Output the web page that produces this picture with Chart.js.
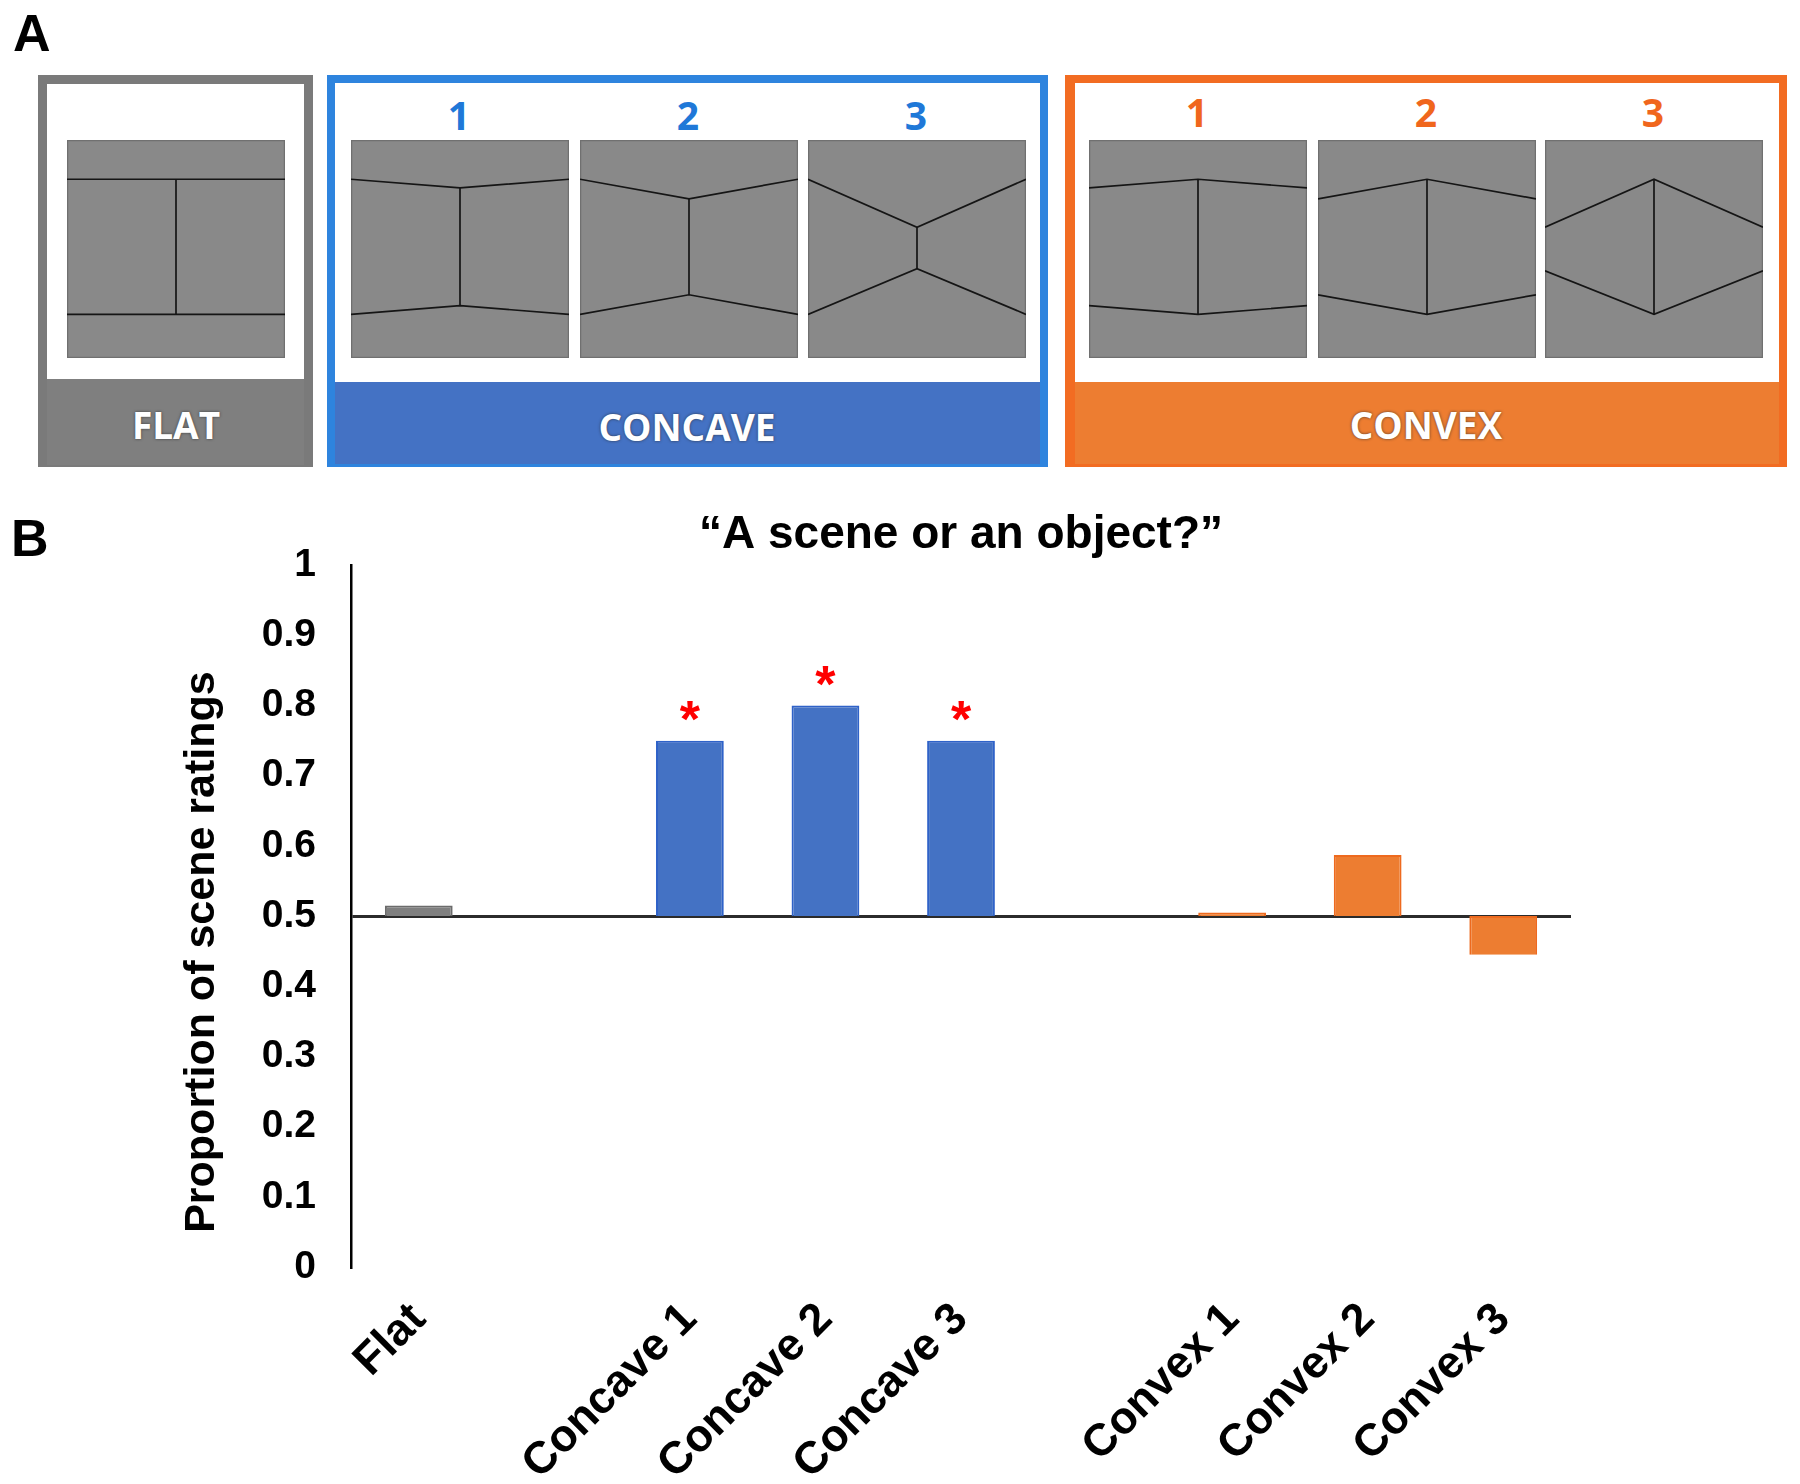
<!DOCTYPE html>
<html>
<head>
<meta charset="utf-8">
<script src="https://cdn.jsdelivr.net/npm/chart.js@4.4.1/dist/chart.umd.min.js"></script>
<style>
  html, body { margin: 0; padding: 0; background: #fff; }
  body { width: 1800px; height: 1484px; position: relative; overflow: hidden; font-family: "Liberation Sans", Arial, sans-serif; }
  .panel-letter { position: absolute; font-weight: bold; font-size: 52px; line-height: 52px; color: #000; }
  .group { position: absolute; box-sizing: border-box; }
  .group .white { position: absolute; left: 0; right: 0; top: 0; background: #fff; }
  .cap { position: absolute; width: 300px; height: 60px; line-height: 60px; text-align: center; white-space: nowrap;
         font-family: "Open Sans", "Noto Sans", sans-serif; font-weight: bold; }
  .cap.name { color: #fff; font-size: 37px; text-shadow: 0 0 3px rgba(40,40,40,0.8); }
  .cap.num { font-size: 39px; }
  .tile { position: absolute; top: 140px; }
  #chartBox { position: absolute; left: 0; top: 500px; width: 1800px; height: 984px; }
</style>
</head>
<body>
<div id="chartBox"><canvas id="chart"></canvas></div>

<div class="panel-letter" style="left:13px;top:7px">A</div>
<div class="panel-letter" style="left:11px;top:512px">B</div>

<!-- panel A: stimulus groups -->
<div class="group" style="left:38px;top:75px;width:275px;height:392px;background:#7f7f7f;border:9px solid #7a7a7a;border-bottom-width:2px">
  <div class="white" style="height:295px"></div>
</div>
<div class="group" style="left:327px;top:75px;width:721px;height:392px;background:#4472c4;border:8px solid #2e84de;border-bottom-width:3px">
  <div class="white" style="height:299px"></div>
</div>
<div class="group" style="left:1065px;top:75px;width:722px;height:392px;background:#ed7d31;border:8px solid #f26c22;border-left-width:10px;border-bottom-width:3px">
  <div class="white" style="height:299px"></div>
</div>

<div class="cap name" style="left:26px;top:395px">FLAT</div>
<div class="cap name" style="left:537px;top:397px">CONCAVE</div>
<div class="cap name" style="left:1276px;top:395px">CONVEX</div>

<div class="cap num" style="left:309px;top:85px;color:#1f78d8">1</div>
<div class="cap num" style="left:538px;top:85px;color:#1f78d8">2</div>
<div class="cap num" style="left:766px;top:85px;color:#1f78d8">3</div>
<div class="cap num" style="left:1047px;top:82px;color:#f0661c">1</div>
<div class="cap num" style="left:1276px;top:82px;color:#f0661c">2</div>
<div class="cap num" style="left:1503px;top:82px;color:#f0661c">3</div>

<script>
// ---- panel A tiles (edge height / centre height of the two horizon lines, as fraction of tile) ----
const tileSize = 218;
const tiles = [
  { left: 67,   top: [0.18, 0.18], bottom: [0.80, 0.80] },
  { left: 351,  top: [0.18, 0.22], bottom: [0.80, 0.76] },
  { left: 580,  top: [0.18, 0.27], bottom: [0.80, 0.71] },
  { left: 808,  top: [0.18, 0.40], bottom: [0.80, 0.59] },
  { left: 1089, top: [0.22, 0.18], bottom: [0.76, 0.80] },
  { left: 1318, top: [0.27, 0.18], bottom: [0.71, 0.80] },
  { left: 1545, top: [0.40, 0.18], bottom: [0.60, 0.80] }
];

tiles.forEach(t => {
  const s = tileSize, c = s / 2;
  const svg = document.createElementNS('http://www.w3.org/2000/svg', 'svg');
  svg.setAttribute('width', s);
  svg.setAttribute('height', s);
  svg.setAttribute('class', 'tile');
  svg.style.left = t.left + 'px';
  const a = t.top[0] * s, b = t.top[1] * s, d = t.bottom[0] * s, e = t.bottom[1] * s;
  svg.innerHTML =
    '<rect x="0.5" y="0.5" width="' + (s - 1) + '" height="' + (s - 1) + '" fill="#898989" stroke="#707070" stroke-width="1.5"/>' +
    '<g stroke="#151515" stroke-width="1.7" fill="none">' +
    '<polyline points="0,' + a + ' ' + c + ',' + b + ' ' + s + ',' + a + '"/>' +
    '<polyline points="0,' + d + ' ' + c + ',' + e + ' ' + s + ',' + d + '"/>' +
    '<line x1="' + c + '" y1="' + b + '" x2="' + c + '" y2="' + e + '"/></g>';
  document.body.appendChild(svg);
});

// ---- panel B data ----
const categories = ['Flat', '', 'Concave 1', 'Concave 2', 'Concave 3', '', 'Convex 1', 'Convex 2', 'Convex 3'];
const sceneRatings = [0.515, null, 0.75, 0.80, 0.75, null, 0.505, 0.587, 0.445];
const significant = [false, false, true, true, true, false, false, false, false];
const chanceLevel = 0.5;
const yTickValues = [0, 0.1, 0.2, 0.3, 0.4, 0.5, 0.6, 0.7, 0.8, 0.9, 1];

const fillColors = { Flat: '#7f7f7f', Concave: '#4472c4', Convex: '#ed7d31' };
const edgeColors = { Flat: '#6b6b6b', Concave: '#2f62c8', Convex: '#ee6a1e' };
const groupOf = label => label.split(' ')[0];

Chart.defaults.font.family = '"Liberation Sans", Arial, Helvetica, sans-serif';

// red asterisks over significant bars
const starPlugin = {
  id: 'stars',
  afterDatasetsDraw(chart) {
    const meta = chart.getDatasetMeta(0);
    const ctx = chart.ctx;
    ctx.save();
    ctx.fillStyle = '#ff0000';
    ctx.font = 'bold 52px "Liberation Sans", Arial, sans-serif';
    ctx.textAlign = 'center';
    ctx.textBaseline = 'alphabetic';
    significant.forEach((sig, i) => {
      if (!sig) return;
      const bar = meta.data[i];
      ctx.fillText('*', bar.x, Math.min(bar.y, bar.base) - 4);
    });
    ctx.restore();
  }
};

// y axis title, sits a bit below the middle of the axis like the original
const yTitlePlugin = {
  id: 'yTitle',
  afterDraw(chart) {
    const { ctx, chartArea } = chart;
    ctx.save();
    ctx.translate(202, (chartArea.top + chartArea.bottom) / 2 + 36);
    ctx.rotate(-Math.PI / 2);
    ctx.font = 'bold 43px "Liberation Sans", Arial, sans-serif';
    ctx.fillStyle = '#000';
    ctx.textAlign = 'center';
    ctx.textBaseline = 'middle';
    ctx.fillText('Proportion of scene ratings', 0, 0);
    ctx.restore();
  }
};

new Chart(document.getElementById('chart'), {
  type: 'bar',
  data: {
    labels: categories,
    datasets: [{
      data: sceneRatings.map(v => v === null ? null : [chanceLevel, v]),
      backgroundColor: categories.map(c => fillColors[groupOf(c)] || 'transparent'),
      borderColor: categories.map(c => edgeColors[groupOf(c)] || 'transparent'),
      borderWidth: 2,
      barPercentage: 0.5,
      categoryPercentage: 1.0
    }]
  },
  options: {
    responsive: true,
    maintainAspectRatio: false,
    animation: false,
    layout: { padding: { left: 0, right: 229, top: 0, bottom: 0 } },
    plugins: {
      legend: { display: false },
      tooltip: { enabled: false },
      title: {
        display: true,
        text: '“A scene or an object?”',
        fullSize: false,
        color: '#000',
        font: { size: 46, weight: 'bold' },
        padding: { top: 8, bottom: 2 }
      }
    },
    scales: {
      x: {
        grid: { display: false },
        border: { display: false },
        ticks: {
          autoSkip: false,
          minRotation: 45,
          maxRotation: 45,
          padding: 18,
          color: '#000',
          font: { size: 45, weight: 'bold' }
        },
        afterFit(scale) { scale.height = 217; }
      },
      y: {
        min: 0,
        max: 1,
        afterBuildTicks(scale) { scale.ticks = yTickValues.map(value => ({ value })); },
        ticks: {
          padding: 35,
          color: '#000',
          font: { size: 39, weight: 'bold' },
          callback: v => String(v)
        },
        grid: {
          drawTicks: false,
          lineWidth: 3,
          color: ctx => (ctx.tick && Math.abs(ctx.tick.value - chanceLevel) < 1e-9) ? '#2b2b2b' : 'rgba(0,0,0,0)'
        },
        border: { display: true, color: '#000', width: 2.5 },
        afterFit(scale) { scale.width = 351; }
      }
    }
  },
  plugins: [starPlugin, yTitlePlugin]
});
</script>
</body>
</html>
